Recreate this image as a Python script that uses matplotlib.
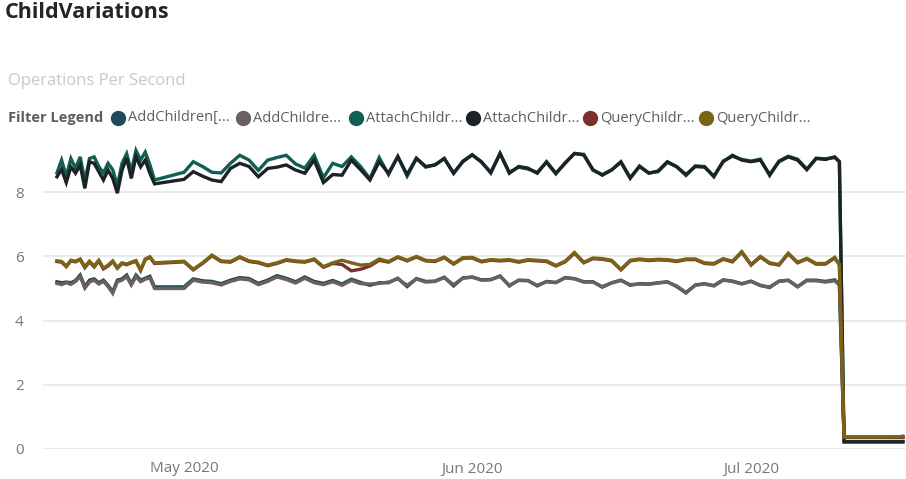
import pandas as pd
import matplotlib
matplotlib.use('Agg')
import matplotlib.pyplot as plt
import matplotlib.dates as mdates
from matplotlib.lines import Line2D

plt.rcParams['font.family'] = ['Open Sans', 'DejaVu Sans']

# sample times: 12h steps at start, gap, daily, drop, flat tail
seg_a = pd.date_range('2020-04-17 08:00', periods=22, freq='12h')
seg_b = pd.date_range('2020-05-01', '2020-07-10', freq='D')
seg_b = seg_b.append(pd.DatetimeIndex(['2020-07-10 12:00']))
seg_c = pd.date_range('2020-07-11', '2020-07-17', freq='D')
seg_c = seg_c.append(pd.DatetimeIndex(['2020-07-17 08:00']))
dates = seg_a.append(seg_b).append(seg_c)

legend_labels = ['AddChildren[...', 'AddChildre...', 'AttachChildr...',
                 'AttachChildr...', 'QueryChildr...', 'QueryChildr...']
colors = ['#1e4b5a', '#6b5f5f', '#115e52', '#1c2326', '#7b2f2f', '#7a6316']

add_children_a = [5.21, 5.18, 5.20, 5.18, 5.25, 5.42, 5.06, 5.26, 5.30, 5.18, 5.26,
                  5.10, 4.90, 5.26, 5.30, 5.42, 5.15, 5.42, 5.26, 5.32, 5.38, 5.05,
                  5.05, 5.30, 5.24, 5.22, 5.15, 5.26, 5.34, 5.31, 5.16, 5.26,
                  5.40, 5.32, 5.21, 5.36, 5.22, 5.16, 5.25, 5.14, 5.29, 5.19,
                  5.10, 5.18, 5.18, 5.32, 5.06, 5.31, 5.22, 5.23, 5.35, 5.08,
                  5.33, 5.36, 5.27, 5.28, 5.39, 5.08, 5.26, 5.25, 5.08, 5.22,
                  5.19, 5.34, 5.31, 5.21, 5.21, 5.04, 5.18, 5.26, 5.10, 5.15,
                  5.14, 5.18, 5.21, 5.06, 4.86, 5.11, 5.15, 5.09, 5.27, 5.23,
                  5.15, 5.23, 5.10, 5.03, 5.23, 5.26, 5.06, 5.26, 5.26, 5.22,
                  5.27, 5.13,
                  0.37, 0.37, 0.37, 0.37, 0.37, 0.37, 0.37, 0.37]
add_children_b = [5.16, 5.12, 5.18, 5.13, 5.22, 5.37, 5.01, 5.20, 5.26, 5.14, 5.22,
                  5.06, 4.85, 5.21, 5.26, 5.37, 5.11, 5.37, 5.21, 5.29, 5.33, 5.00,
                  5.00, 5.26, 5.20, 5.18, 5.11, 5.22, 5.30, 5.27, 5.12, 5.22,
                  5.36, 5.28, 5.17, 5.32, 5.18, 5.12, 5.21, 5.10, 5.25, 5.15,
                  5.14, 5.16, 5.20, 5.30, 5.10, 5.30, 5.20, 5.22, 5.34, 5.12,
                  5.32, 5.35, 5.26, 5.27, 5.38, 5.10, 5.25, 5.24, 5.10, 5.21,
                  5.18, 5.33, 5.30, 5.20, 5.20, 5.06, 5.17, 5.25, 5.12, 5.14,
                  5.13, 5.17, 5.20, 5.08, 4.88, 5.10, 5.14, 5.08, 5.26, 5.22,
                  5.14, 5.22, 5.09, 5.05, 5.22, 5.25, 5.05, 5.24, 5.24, 5.20,
                  5.24, 5.11,
                  0.36, 0.36, 0.36, 0.36, 0.36, 0.36, 0.36, 0.36]
attach_a = [8.60, 9.00, 8.50, 9.05, 8.75, 9.10, 8.35, 9.05, 9.10, 8.80, 8.60,
            8.90, 8.70, 8.20, 8.90, 9.20, 8.65, 9.30, 9.00, 9.25, 8.85, 8.38,
            8.62, 8.95, 8.80, 8.62, 8.60, 8.90, 9.15, 9.00, 8.68, 9.00,
            9.08, 9.15, 8.88, 8.75, 9.15, 8.45, 8.90, 8.80, 9.10, 8.80,
            8.42, 9.08, 8.55, 9.12, 8.50, 9.05, 8.78, 8.85, 9.05, 8.58,
            8.97, 9.17, 8.93, 8.62, 9.20, 8.62, 8.78, 8.72, 8.62, 8.93,
            8.57, 8.92, 9.20, 9.18, 8.68, 8.55, 8.70, 8.93, 8.43, 8.82,
            8.60, 8.64, 8.93, 8.80, 8.52, 8.82, 8.80, 8.48, 8.97, 9.12,
            9.02, 8.97, 9.03, 8.52, 8.97, 9.12, 9.03, 8.72, 9.06, 9.04,
            9.08, 8.95,
            0.23, 0.23, 0.23, 0.23, 0.23, 0.23, 0.23, 0.23]
attach_b = [8.48, 8.71, 8.30, 8.79, 8.59, 8.85, 8.12, 8.95, 8.90, 8.64, 8.38,
            8.69, 8.43, 7.97, 8.69, 9.06, 8.43, 9.11, 8.79, 9.00, 8.59, 8.26,
            8.40, 8.64, 8.50, 8.38, 8.33, 8.74, 8.90, 8.80, 8.48, 8.74,
            8.78, 8.85, 8.69, 8.59, 9.00, 8.30, 8.55, 8.53, 9.00, 8.70,
            8.38, 8.95, 8.59, 9.10, 8.55, 9.06, 8.80, 8.85, 9.05, 8.60,
            8.95, 9.16, 8.95, 8.60, 9.21, 8.59, 8.80, 8.75, 8.59, 8.95,
            8.59, 8.90, 9.21, 9.16, 8.70, 8.53, 8.69, 8.95, 8.45, 8.80,
            8.59, 8.66, 8.95, 8.79, 8.55, 8.80, 8.78, 8.50, 8.95, 9.15,
            9.00, 8.95, 9.00, 8.55, 8.95, 9.10, 9.00, 8.70, 9.05, 9.02,
            9.10, 8.95,
            0.22, 0.22, 0.22, 0.22, 0.22, 0.22, 0.22, 0.22]
query_a = [5.84, 5.82, 5.68, 5.86, 5.83, 5.90, 5.65, 5.83, 5.67, 5.86, 5.61,
           5.70, 5.84, 5.63, 5.78, 5.74, 5.80, 5.85, 5.56, 5.90, 5.97, 5.78,
           5.83, 5.58, 5.78, 6.02, 5.84, 5.82, 5.97, 5.84, 5.80, 5.71,
           5.78, 5.88, 5.84, 5.82, 5.90, 5.66, 5.78, 5.75, 5.55, 5.60,
           5.70, 5.88, 5.82, 5.97, 5.86, 5.98, 5.86, 5.84, 5.96, 5.76,
           5.94, 5.95, 5.83, 5.88, 5.86, 5.88, 5.82, 5.88, 5.86, 5.84,
           5.70, 5.83, 6.10, 5.80, 5.93, 5.91, 5.86, 5.58, 5.86, 5.90,
           5.87, 5.89, 5.88, 5.84, 5.90, 5.90, 5.78, 5.76, 5.91, 5.83,
           6.13, 5.73, 5.98, 5.78, 5.73, 6.08, 5.80, 5.92, 5.76, 5.76,
           5.95, 5.74,
           0.36, 0.36, 0.36, 0.36, 0.36, 0.36, 0.36, 0.36]
query_b = [5.86, 5.84, 5.70, 5.88, 5.85, 5.92, 5.68, 5.85, 5.70, 5.88, 5.63,
           5.73, 5.86, 5.65, 5.80, 5.76, 5.82, 5.87, 5.58, 5.92, 5.99, 5.80,
           5.85, 5.60, 5.80, 6.04, 5.86, 5.84, 5.99, 5.86, 5.82, 5.73,
           5.80, 5.90, 5.86, 5.84, 5.92, 5.68, 5.80, 5.88, 5.80, 5.73,
           5.75, 5.92, 5.84, 5.99, 5.88, 6.00, 5.88, 5.86, 5.98, 5.78,
           5.96, 5.97, 5.85, 5.90, 5.88, 5.90, 5.84, 5.90, 5.88, 5.86,
           5.72, 5.85, 6.12, 5.82, 5.95, 5.93, 5.88, 5.60, 5.88, 5.92,
           5.89, 5.91, 5.90, 5.86, 5.92, 5.92, 5.80, 5.78, 5.93, 5.85,
           6.15, 5.75, 6.00, 5.80, 5.75, 6.10, 5.82, 5.94, 5.78, 5.78,
           5.97, 5.76,
           0.37, 0.37, 0.37, 0.37, 0.37, 0.38, 0.38, 0.40]

series = [add_children_a, add_children_b, attach_a, attach_b, query_a, query_b]
y_ticks = [0, 2, 4, 6, 8]

fig = plt.figure(figsize=(9.06, 4.79), dpi=100)
ax = fig.add_axes([43 / 906, 1 - 449 / 479, 1 - 43 / 906, (449 - 140) / 479])

for vals, c in zip(series, colors):
    ax.plot(dates, vals, color=c, lw=2.4, solid_joinstyle='miter')

ax.set_ylim(0, (449 - 140) / 32.1)
ax.set_xlim(pd.Timestamp('2020-04-15 20:00'), pd.Timestamp('2020-07-17 16:00'))
ax.set_yticks(y_ticks)
ax.xaxis.set_major_locator(mdates.MonthLocator())
ax.xaxis.set_major_formatter(mdates.DateFormatter('%b %Y'))
ax.grid(True, axis='y', color='#e6e6e6', lw=1.2)
ax.set_axisbelow(True)
for s in ax.spines.values():
    s.set_visible(False)
ax.tick_params(length=0, labelsize=11, colors='#777777', pad=9)
ax.tick_params(axis='y', pad=14)

fig.text(5 / 906, 1 - 13 / 479, 'ChildVariations', fontsize=15.5, fontweight='bold',
         color='#252423', va='center', ha='left')
fig.text(8 / 906, 1 - 81 / 479, 'Operations Per Second', fontsize=12,
         color='#c8c8c8', va='center', ha='left')
fig.text(8 / 906, 1 - 118 / 479, 'Filter Legend', fontsize=10.5, fontweight='bold',
         color='#605e5c', va='center', ha='left')

dot_x = [118, 243, 356, 473, 590, 706]
for x, lab, c in zip(dot_x, legend_labels, colors):
    fig.add_artist(Line2D([x / 906], [1 - 118 / 479], transform=fig.transFigure,
                          marker='o', markersize=10, color=c, lw=0))
    fig.text((x + 10) / 906, 1 - 118 / 479, lab, fontsize=10.5, color='#605e5c',
             va='center', ha='left')

plt.savefig('out.png', dpi=100)
